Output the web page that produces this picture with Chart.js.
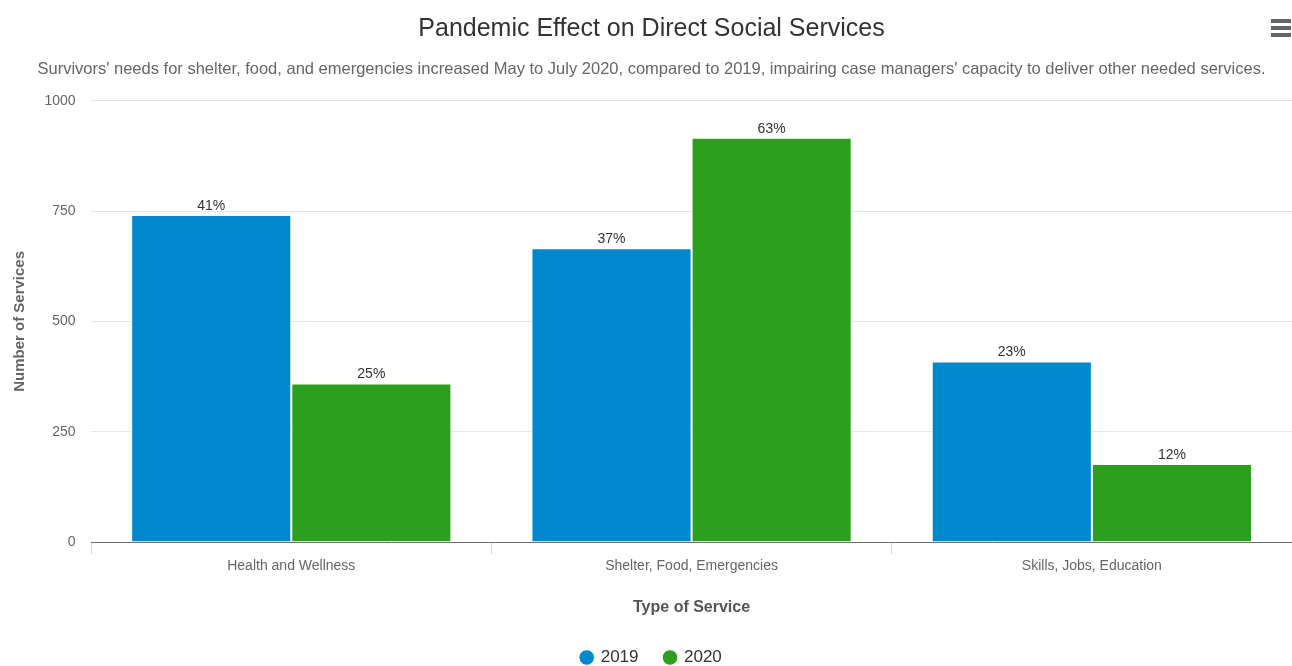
<!DOCTYPE html>
<html>
<head>
<meta charset="utf-8">
<script src="https://cdn.jsdelivr.net/npm/chart.js@4"></script>
<style>
  body { margin: 0; background: #fff; }
  #wrap { position: relative; width: 1292px; height: 666px; }
  #menu { position: absolute; left: 1271px; top: 19px; width: 20px; }
  #menu div { height: 4px; background: #666; margin-bottom: 3px; }
</style>
</head>
<body>
<div id="wrap">
  <canvas id="myChart" width="1292" height="666"></canvas>
  <div id="menu"><div></div><div></div><div></div></div>
</div>
<script>
const categories = ["Health and Wellness", "Shelter, Food, Emergencies", "Skills, Jobs, Education"];
const values2019 = [741, 666, 409];
const values2020 = [359, 916, 177];
const labels2019 = ["41%", "37%", "23%"];
const labels2020 = ["25%", "63%", "12%"];
const yTicks = [0, 250, 500, 750, 1000];

const font = "'Liberation Sans', sans-serif";

const barLabels = {
    id: "barLabels",
    afterDatasetsDraw(chart) {
        const ctx = chart.ctx;
        const texts = [labels2019, labels2020];
        ctx.save();
        ctx.font = "14px " + font;
        ctx.fillStyle = "#333";
        ctx.textAlign = "center";
        ctx.textBaseline = "bottom";
        chart.data.datasets.forEach((ds, i) => {
            chart.getDatasetMeta(i).data.forEach((bar, j) => {
                ctx.fillText(texts[i][j], bar.x, bar.y - 2);
            });
        });
        ctx.restore();
    },
};

const ctx = document.getElementById("myChart").getContext("2d");

new Chart(ctx, {
    type: "bar",
    data: {
        labels: categories,
        datasets: [
            {
                label: "2019",
                data: values2019,
                backgroundColor: "#0088cc",
                borderColor: "#ffffff",
                borderWidth: 1,
            },
            {
                label: "2020",
                data: values2020,
                backgroundColor: "#2ca01e",
                borderColor: "#ffffff",
                borderWidth: 1,
            },
        ],
    },
    plugins: [barLabels],
    options: {
        responsive: false,
        animation: false,
        layout: { padding: { left: 11, right: 0, top: 0, bottom: -10 } },
        datasets: {
            bar: { categoryPercentage: 0.8, barPercentage: 1.0 },
        },
        scales: {
            y: {
                min: 0,
                max: 1000,
                afterBuildTicks: (axis) => {
                    axis.ticks = yTicks.map((v) => ({ value: v }));
                },
                border: { display: false },
                grid: { color: "#e6e6e6", drawTicks: false },
                ticks: {
                    color: "#666",
                    font: { family: font, size: 14 },
                    padding: 15.5,
                    callback: (v) => String(v),
                },
                title: {
                    display: true,
                    text: "Number of Services",
                    color: "#666",
                    font: { family: font, size: 15, weight: "bold" },
                    padding: { top: 0, bottom: 0 },
                },
            },
            x: {
                border: { display: true, color: "#707070", width: 1 },
                grid: {
                    drawOnChartArea: false,
                    drawTicks: true,
                    tickLength: 12,
                    color: "#ccd6eb",
                },
                ticks: {
                    color: "#666",
                    font: { family: font, size: 14 },
                    padding: 4,
                },
                title: {
                    display: true,
                    text: "Type of Service",
                    color: "#555",
                    font: { family: font, size: 16, weight: "bold" },
                    padding: { top: 19, bottom: 6 },
                },
            },
        },
        plugins: {
            title: {
                display: true,
                text: "Pandemic Effect on Direct Social Services",
                color: "#333",
                font: { family: font, size: 25, weight: "normal" },
                padding: { top: 14, bottom: 16 },
            },
            subtitle: {
                display: true,
                text: "Survivors' needs for shelter, food, and emergencies increased May to July 2020, compared to 2019, impairing case managers' capacity to deliver other needed services.",
                color: "#666",
                font: { family: font, size: 16.5 },
                padding: { top: 0, bottom: 21 },
            },
            legend: {
                position: "bottom",
                labels: {
                    usePointStyle: true,
                    pointStyle: "circle",
                    boxWidth: 11,
                    boxHeight: 11,
                    color: "#333",
                    font: { family: font, size: 17 },
                    padding: 26,
                },
            },
            tooltip: { enabled: false },
        },
    },
});
</script>
</body>
</html>
